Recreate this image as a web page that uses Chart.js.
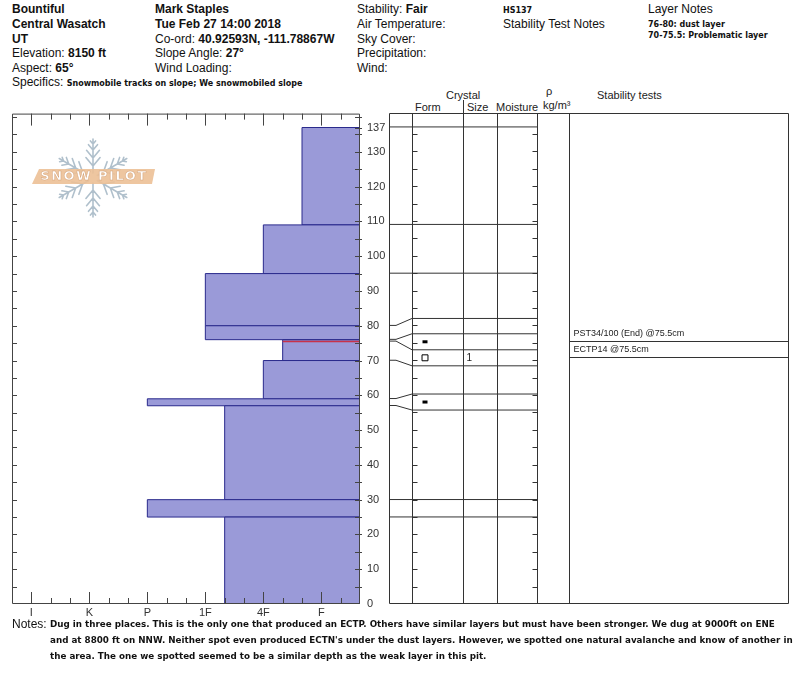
<!DOCTYPE html>
<html>
<head>
<meta charset="utf-8">
<title>Snow profile - Bountiful</title>
<script src="https://cdn.jsdelivr.net/npm/chart.js@4.4.1/dist/chart.umd.min.js"></script>
<style>
  body { margin: 0; background: #fff; }
  #page { position: relative; width: 800px; height: 676px; overflow: hidden;
          font-family: "Liberation Sans", Arial, sans-serif; color: #111; }
  .t { position: absolute; white-space: nowrap; font-size: 12px; line-height: 14px; }
  .b { font-weight: bold; }
  .s { font-family: "DejaVu Sans", sans-serif; font-size: 8px; font-weight: bold; }
  .h { position: absolute; white-space: nowrap; font-size: 11px; line-height: 12px; color: #222; }
  .n { position: absolute; left: 50px; white-space: nowrap; line-height: 16px;
       font-family: "DejaVu Sans", sans-serif; font-size: 8px; font-weight: bold; }
  canvas { position: absolute; }
</style>
</head>
<body>
<div id="page">
  <div class="t b" style="left:12px;top:2px">Bountiful</div>
  <div class="t b" style="left:12px;top:17px">Central Wasatch</div>
  <div class="t b" style="left:12px;top:32px">UT</div>
  <div class="t" style="left:12px;top:46px">Elevation: <b>8150 ft</b></div>
  <div class="t" style="left:12px;top:61px">Aspect: <b>65°</b></div>
  <div class="t" style="left:12px;top:75px">Specifics: <span class="s">Snowmobile tracks on slope; We snowmobiled slope</span></div>

  <div class="t b" style="left:155px;top:2px">Mark Staples</div>
  <div class="t b" style="left:155px;top:17px">Tue Feb 27 14:00 2018</div>
  <div class="t" style="left:155px;top:32px">Co-ord: <b>40.92593N, -111.78867W</b></div>
  <div class="t" style="left:155px;top:46px">Slope Angle: <b>27°</b></div>
  <div class="t" style="left:155px;top:61px">Wind Loading:</div>

  <div class="t" style="left:357px;top:2px">Stability: <b>Fair</b></div>
  <div class="t" style="left:357px;top:17px">Air Temperature:</div>
  <div class="t" style="left:357px;top:32px">Sky Cover:</div>
  <div class="t" style="left:357px;top:46px">Precipitation:</div>
  <div class="t" style="left:357px;top:61px">Wind:</div>

  <div class="t s" style="left:503px;top:4px">HS137</div>
  <div class="t" style="left:503px;top:17px">Stability Test Notes</div>

  <div class="t" style="left:648px;top:2px">Layer Notes</div>
  <div class="t s" style="left:648px;top:19px;line-height:11px">76-80: dust layer<br>70-75.5: Problematic layer</div>

  <div class="h" style="left:446px;top:89px">Crystal</div>
  <div class="h" style="left:415px;top:101px">Form</div>
  <div class="h" style="left:467px;top:101px">Size</div>
  <div class="h" style="left:496px;top:101px">Moisture</div>
  <div class="h" style="left:546px;top:85px">ρ</div>
  <div class="h" style="left:543px;top:99px">kg/m³</div>
  <div class="h" style="left:597px;top:89px">Stability tests</div>

  <canvas id="hard" width="400" height="525" style="left:0;top:100px"></canvas>
  <canvas id="panel" width="420" height="525" style="left:380px;top:100px"></canvas>
  <canvas id="logo" width="135" height="86" style="left:28px;top:134px"></canvas>

  <div class="t" style="left:12px;top:617px">Notes:</div>
  <div class="n" id="n1" style="top:616px">Dug in three places. This is the only one that produced an ECTP. Others have similar layers but must have been stronger. We dug at 9000ft on ENE</div>
  <div class="n" id="n2" style="top:632px">and at 8800 ft on NNW. Neither spot even produced ECTN's under the dust layers. However, we spotted one natural avalanche and know of another in</div>
  <div class="n" id="n3" style="top:648px">the area. The one we spotted seemed to be a similar depth as the weak layer in this pit.</div>
</div>
<script>
// hand hardness, softest first; the axis value is index + 1
var hardnessCodes = ['F-','F','F+','4F-','4F','4F+','1F-','1F','1F+','P-','P','P+','K-','K','K+','I-','I','I+'];
var hardnessLabels = ['I','K','P','1F','4F','F'];
var depthTicks = [0,10,20,30,40,50,60,70,80,90,100,110,120,130,137];

// layers, bottom to top, cm above ground
var layerBottom = [0, 25, 30, 57, 59, 70, 75.5, 76, 80, 95, 109];
var layerTop    = [25, 30, 57, 59, 70, 75.5, 76, 80, 95, 109, 137];
var layerHard   = ['1F-','P','1F-','P','4F','4F-','4F-','1F','1F','4F','F+'];

// layer boundaries and the heights the table spreads them to
var boundaryDepth = [137, 109, 95, 80, 76, 75.5, 70, 59, 57, 30, 25];
var boundaryShown = [137, 109, 95, 82, 77.6, 73, 68.4, 60.3, 55.7, 30, 25];

// grain form entries
var grainBottom = [75.5, 70, 57];
var grainTop    = [76, 75.5, 59];
var grainForm   = ['bar', 'square', 'bar'];
var grainSize   = ['', '1', ''];

// stability tests
var testNames = ['PST34/100 (End) @75.5cm', 'ECTP14 @75.5cm'];
var testDepth = [75.5, 75.5];
var failureDepth = 75.5;
var failureHard = '4F-';

Chart.defaults.font.family = '"Liberation Sans", Arial, sans-serif';

function hv(code) { return hardnessCodes.indexOf(code) + 1; }
function shownOf(d) { return boundaryShown[boundaryDepth.indexOf(d)]; }

// frame and inner tick marks of the hardness plot
var hardFrame = {
  id: 'hardFrame',
  afterDatasetsDraw: function(chart) {
    var ctx = chart.ctx, a = chart.chartArea, x = chart.scales.x, y = chart.scales.y;
    var majors = hardnessLabels.map(hv);
    ctx.save();
    ctx.strokeStyle = '#444';
    ctx.lineWidth = 1;
    ctx.beginPath();
    ctx.rect(a.left + 0.5, a.top + 0.5, a.right - a.left - 1, a.bottom - a.top - 1);
    for (var v = 1; v < 18; v++) {
      var px = Math.round(x.getPixelForValue(v)) + 0.5;
      var len = majors.indexOf(v) >= 0 ? 12 : 6;
      ctx.moveTo(px, a.bottom); ctx.lineTo(px, a.bottom - len);
      ctx.moveTo(px, a.top); ctx.lineTo(px, a.top + len);
    }
    var marks = [];
    for (var d = 5; d <= 140; d += 5) marks.push(d);
    marks.push(137);
    marks.forEach(function(d) {
      var py = Math.round(y.getPixelForValue(d)) + 0.5;
      if (d % 5 === 0) { ctx.moveTo(a.left, py); ctx.lineTo(a.left + 5, py); }
      ctx.moveTo(a.right - 5, py); ctx.lineTo(a.right + 2, py);
    });
    ctx.stroke();
    ctx.restore();
  }
};

var hardSets = layerBottom.map(function(b, i) {
  var h = hv(layerHard[i]), t = layerTop[i];
  return {
    data: [{x: 0, y: b}, {x: h, y: b}, {x: h, y: t}, {x: 0, y: t}, {x: 0, y: b}],
    fill: 'shape',
    backgroundColor: '#9a9ad8',
    borderColor: '#2a2a8c',
    borderWidth: 1,
    pointRadius: 0,
    tension: 0
  };
});
hardSets.unshift({
  data: [{x: 0, y: failureDepth}, {x: hv(failureHard), y: failureDepth}],
  borderColor: '#c8324a', borderWidth: 1.5, pointRadius: 0, fill: false
});

new Chart(document.getElementById('hard'), {
  type: 'line',
  data: { datasets: hardSets },
  options: {
    responsive: false,
    animation: false,
    events: [],
    layout: { padding: { left: 12, top: 13, right: 0, bottom: 0 } },
    plugins: { legend: { display: false }, tooltip: { enabled: false } },
    scales: {
      x: {
        type: 'linear', reverse: true, min: 0, max: 18,
        grid: { display: false, drawTicks: false },
        border: { display: false },
        afterBuildTicks: function(s) { s.ticks = hardnessLabels.map(function(l) { return {value: hv(l)}; }); },
        afterFit: function(s) { s.height = 21; },
        ticks: {
          autoSkip: false, maxRotation: 0, padding: 2, color: '#333', font: { size: 11 },
          callback: function(v) { return hardnessLabels.find(function(l) { return hv(l) === v; }); }
        }
      },
      y: {
        type: 'linear', position: 'right', min: 0, max: 141,
        grid: { display: false, drawTicks: false },
        border: { display: false },
        afterBuildTicks: function(s) { s.ticks = depthTicks.map(function(v) { return {value: v}; }); },
        afterFit: function(s) { s.width = 40; },
        ticks: { autoSkip: false, padding: 7, color: '#333', font: { size: 11 } }
      }
    }
  },
  plugins: [hardFrame]
});

// profile table: gap | form | size | moisture | density | stability tests
var colEdge = [0, 23, 74, 108, 148, 180, 399];

var panelFrame = {
  id: 'panelFrame',
  afterDatasetsDraw: function(chart) {
    var ctx = chart.ctx, a = chart.chartArea, x = chart.scales.x, y = chart.scales.y;
    function px(v) { return Math.round(x.getPixelForValue(v)) + 0.5; }
    function py(v) { return Math.round(y.getPixelForValue(v)) + 0.5; }
    ctx.save();
    ctx.strokeStyle = '#333';
    ctx.lineWidth = 1;
    ctx.beginPath();
    ctx.rect(px(colEdge[0]), a.top + 0.5, px(colEdge[6]) - px(colEdge[0]), a.bottom - a.top - 1);
    colEdge.slice(1, -1).forEach(function(c) {
      ctx.moveTo(px(c), a.top); ctx.lineTo(px(c), a.bottom);
    });
    ctx.moveTo(px(colEdge[2]), 0); ctx.lineTo(px(colEdge[2]), a.top);
    for (var d = 5; d <= 135; d += 5) {
      ctx.moveTo(px(colEdge[1]), py(d)); ctx.lineTo(px(colEdge[1]) + 5, py(d));
      ctx.moveTo(px(colEdge[4]) - 5, py(d)); ctx.lineTo(px(colEdge[4]), py(d));
    }
    var ty = -Infinity, textY = [];
    testNames.forEach(function(n, i) {
      ty = Math.max(y.getPixelForValue(testDepth[i]), ty + 16);
      var yy = Math.round(ty) + 0.5;
      textY.push(yy);
      ctx.moveTo(px(colEdge[5]), yy); ctx.lineTo(px(colEdge[6]), yy);
    });
    ctx.stroke();

    ctx.fillStyle = '#222';
    ctx.textBaseline = 'middle';
    ctx.font = '9px "Liberation Sans", Arial, sans-serif';
    testNames.forEach(function(n, i) { ctx.fillText(n, px(colEdge[5]) + 4, textY[i] - 8); });
    ctx.font = '10px "Liberation Sans", Arial, sans-serif';
    grainSize.forEach(function(s, i) {
      if (!s) return;
      var mid = (shownOf(grainBottom[i]) + shownOf(grainTop[i])) / 2;
      ctx.fillText(s, px(colEdge[2]) + 3, y.getPixelForValue(mid));
    });
    ctx.restore();
  }
};

var panelSets = boundaryDepth.map(function(d, i) {
  return {
    data: [{x: colEdge[0], y: d}, {x: colEdge[0] + 7, y: d},
           {x: colEdge[1], y: boundaryShown[i]}, {x: colEdge[4], y: boundaryShown[i]}],
    borderColor: '#333', borderWidth: 1, pointRadius: 0, fill: false, tension: 0
  };
});
grainForm.forEach(function(f, i) {
  var mid = (shownOf(grainBottom[i]) + shownOf(grainTop[i])) / 2;
  panelSets.push({
    type: 'scatter',
    data: [{x: colEdge[1] + 13, y: mid}],
    showLine: false,
    pointStyle: f === 'square' ? 'rect' : 'line',
    pointRadius: f === 'square' ? 4.2 : 2.5,
    borderWidth: f === 'square' ? 1 : 3,
    borderColor: '#000',
    backgroundColor: '#fff'
  });
});

new Chart(document.getElementById('panel'), {
  type: 'line',
  data: { datasets: panelSets },
  options: {
    responsive: false,
    animation: false,
    events: [],
    layout: { padding: { left: 9, right: 12, top: 13, bottom: 21 } },
    plugins: { legend: { display: false }, tooltip: { enabled: false } },
    scales: {
      x: { type: 'linear', min: 0, max: 399, display: false },
      y: { type: 'linear', min: 0, max: 141, display: false }
    }
  },
  plugins: [panelFrame]
});

// SnowPilot watermark
(function() {
  var g = document.getElementById('logo').getContext('2d');
  var cx = 65, cy = 44;
  g.strokeStyle = '#b0c0cc';
  g.lineWidth = 1.6;
  g.lineCap = 'round';
  for (var k = 0; k < 6; k++) {
    var ang = Math.PI / 2 + k * Math.PI / 3;
    var ux = Math.cos(ang), uy = -Math.sin(ang);
    g.beginPath();
    g.moveTo(cx + ux * 5, cy + uy * 5);
    g.lineTo(cx + ux * 39, cy + uy * 39);
    [[12, 11], [20, 10], [28, 7], [34, 4]].forEach(function(br) {
      var bx = cx + ux * br[0], by = cy + uy * br[0];
      [0.7, -0.7].forEach(function(off) {
        g.moveTo(bx, by);
        g.lineTo(bx + Math.cos(ang + off) * br[1], by - Math.sin(ang + off) * br[1]);
      });
    });
    g.stroke();
  }
  g.fillStyle = 'rgba(236,192,150,0.9)';
  g.beginPath();
  g.moveTo(11, 35); g.lineTo(127, 35); g.lineTo(124, 50); g.lineTo(4, 50);
  g.closePath();
  g.fill();
  g.font = 'bold 13px "DejaVu Sans", sans-serif';
  g.letterSpacing = '1.5px';
  g.textAlign = 'center';
  g.textBaseline = 'middle';
  g.fillStyle = '#fff';
  g.fillText('SNOW PILOT', 66, 43);
  g.strokeStyle = 'rgba(205,150,105,0.8)';
  g.lineWidth = 0.5;
  g.strokeText('SNOW PILOT', 66, 43);
})();

// fit the note lines to the width of the first one in the reference
(function() {
  var n1 = document.getElementById('n1');
  var scale = 725 / n1.offsetWidth;
  ['n1', 'n2', 'n3'].forEach(function(id) {
    document.getElementById(id).style.fontSize = (8 * scale).toFixed(2) + 'px';
  });
})();
</script>
</body>
</html>
